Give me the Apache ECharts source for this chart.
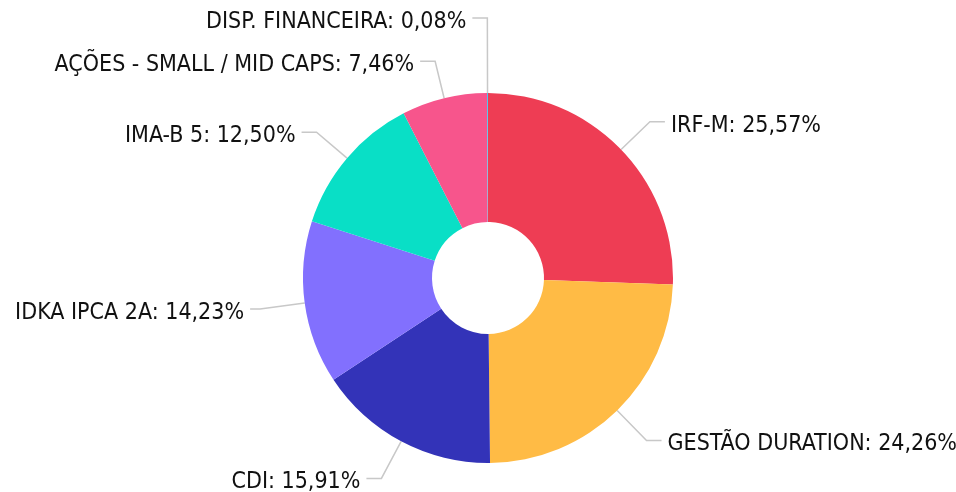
<!DOCTYPE html>
<html>
<head>
<meta charset="utf-8">
<title>Pie</title>
<script src="https://cdn.jsdelivr.net/npm/echarts@6/dist/echarts.min.js"></script>
<style>
  html, body { margin: 0; padding: 0; background: #fff; }
  #chart { width: 956px; height: 492px; }
</style>
</head>
<body>
<div id="chart"></div>
<script>
var names = ['IRF-M', 'GESTÃO DURATION', 'CDI', 'IDKA IPCA 2A', 'IMA-B 5', 'AÇÕES - SMALL / MID CAPS', 'DISP. FINANCEIRA'];
var values = [25.57, 24.26, 15.91, 14.23, 12.50, 7.46, 0.08];
var colors = ['#ee3d54', '#ffbb45', '#3333b8', '#8270fe', '#09dfc6', '#f7558c', '#3ec1f0'];
// leader line lengths per slice
var lineLen = [40, 42, 42, 45, 40, 38, 75];
var lineLen2 = [15, 15, 15, 10, 15, 15, 15];

var chart = echarts.init(document.getElementById('chart'));

var data = names.map(function (n, i) {
  return {
    name: n,
    value: values[i],
    itemStyle: { color: colors[i] },
    labelLine: { length: lineLen[i], length2: lineLen2[i] }
  };
});

chart.setOption({
  animation: false,
  series: [{
    type: 'pie',
    center: [488, 278],
    radius: [56, 185],
    startAngle: 90,
    minShowLabelAngle: 0,
    avoidLabelOverlap: false,
    data: data,
    label: {
      distanceToLabelLine: 6,
      formatter: function (p) {
        return '{t|' + p.name + ': ' + p.value.toFixed(2).replace('.', ',') + '%}';
      },
      rich: {
        t: {
          color: '#111',
          fontFamily: 'DejaVu Sans Condensed, DejaVu Sans',
          fontSize: 23,
          padding: [8, 0, 0, 0]
        }
      }
    },
    labelLine: {
      lineStyle: { color: '#c8c8c8', width: 1.5 }
    }
  }]
});
</script>
</body>
</html>
